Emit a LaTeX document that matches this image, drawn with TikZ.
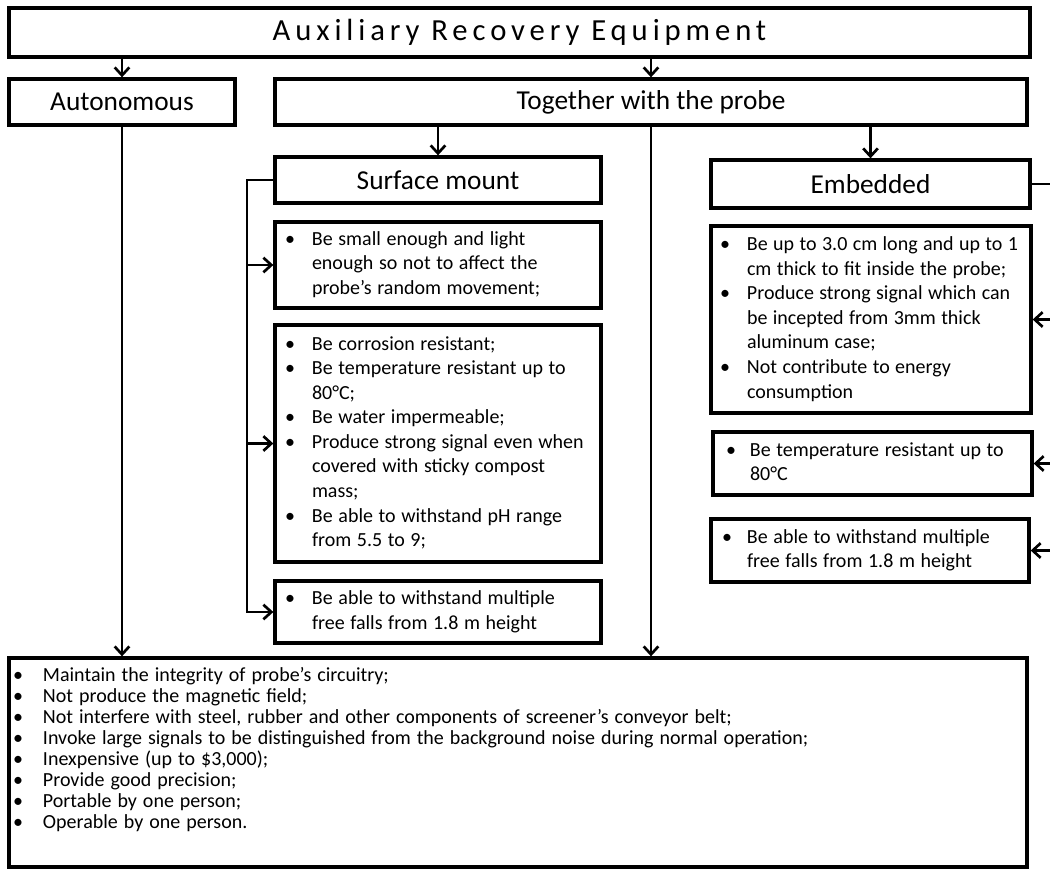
\documentclass[tikz,border=0pt]{standalone}
\usepackage{fontspec}
\setmainfont{Carlito}
\newfontfamily\titlefont[LetterSpace=16]{Carlito}
\usetikzlibrary{arrows.meta}
\newlength\bind
\newcommand\bl{\makebox[\bind][l]{•}}
\newcommand\cl{\hspace*{\bind}}
\newcommand\tsp[1]{\spaceskip=#1em plus 0.05em minus 0.02em\relax}
\begin{document}
\begin{tikzpicture}[x=0.75pt,y=-0.75pt,
  hdr/.style={draw, line width=2.5pt, inner sep=0pt, font=\fontsize{20.5pt}{24pt}\selectfont},
  txtbox/.style={draw, line width=2.5pt, inner ysep=0pt, align=left,
    font=\fontsize{15pt}{18.4pt}\selectfont},
  conn/.style={line width=2pt},
  arr/.style={conn, -{Straight Barb[length=6pt,width=11pt]}}]
\path[use as bounding box] (0,0) rectangle (1050,869);
% headers
\node[hdr, minimum width=765.75pt, minimum height=36.75pt, font=\titlefont\fontsize{23pt}{27pt}\selectfont] (title) at (519.5,32.5) {Auxiliary Recovery Equipment};
\node[hdr, minimum width=169.5pt, minimum height=34.5pt] (aut) at (122,102) {Autonomous};
\node[hdr, minimum width=564pt, minimum height=34.5pt] (tog) at (651,102) {Together with the probe};
\node[hdr, minimum width=244.5pt, minimum height=34.5pt] (sm) at (438,180) {Surface mount};
\node[hdr, minimum width=239.25pt, minimum height=36pt] (emb) at (870.5,184) {Embedded};
% surface mount boxes
\node[txtbox, minimum width=244.5pt, minimum height=64.5pt, text width=229.5pt, inner xsep=7.5pt] (sm1) at (438,265)
 {\tsp{0.28}\setlength\bind{20.25pt}\begin{tabular}{@{}l@{}}
 \bl Be small enough and light\\
 \cl enough so not to affect the\\
 \cl probe’s random movement;
 \end{tabular}};
\node[txtbox, minimum width=244.5pt, minimum height=177.75pt, text width=229.5pt, inner xsep=7.5pt] (sm2) at (438,443.5)
 {\tsp{0.28}\setlength\bind{20.25pt}\begin{tabular}{@{}l@{}}
 \bl Be corrosion resistant;\\
 \bl Be temperature resistant up to\\
 \cl 80°C;\\
 \bl Be water impermeable;\\
 \bl Produce strong signal even when\\
 \cl covered with sticky compost\\
 \cl mass;\\
 \bl Be able to withstand pH range\\
 \cl from 5.5 to 9;
 \end{tabular}};
\node[txtbox, minimum width=244.5pt, minimum height=46.5pt, text width=229.5pt, inner xsep=7.5pt] (sm3) at (438,612)
 {\tsp{0.28}\setlength\bind{20.25pt}\begin{tabular}{@{}l@{}}
 \bl Be able to withstand multiple\\
 \cl free falls from 1.8 m height
 \end{tabular}};
% embedded boxes
\node[txtbox, minimum width=240pt, minimum height=140.25pt, text width=226.5pt, inner xsep=6.75pt] (e1) at (871,319.5)
 {\tsp{0.27}\setlength\bind{20.25pt}\begin{tabular}{@{}l@{}}
 \bl Be up to 3.0 cm long and up to 1\\
 \cl cm thick to fit inside the probe;\\
 \bl Produce strong signal which can\\
 \cl be incepted from 3mm thick\\
 \cl aluminum case;\\
 \bl Not contribute to energy\\
 \cl consumption
 \end{tabular}};
\node[txtbox, minimum width=239.25pt, minimum height=47.25pt, text width=219.75pt, inner xsep=9.75pt] (e2) at (872.5,463.5)
 {\tsp{0.28}\setlength\bind{18pt}\begin{tabular}{@{}l@{}}
 \bl Be temperature resistant up to\\
 \cl 80°C
 \end{tabular}};
\node[txtbox, minimum width=238.5pt, minimum height=47.25pt, text width=222pt, inner xsep=8.25pt] (e3) at (870,550.5)
 {\tsp{0.28}\setlength\bind{18.75pt}\begin{tabular}{@{}l@{}}
 \bl Be able to withstand multiple\\
 \cl free falls from 1.8 m height
 \end{tabular}};
% bottom box
\node[txtbox, minimum width=763.5pt, minimum height=156.75pt, text width=757.5pt, inner xsep=3pt,
      font=\fontsize{15pt}{15.75pt}\selectfont] (bot) at (518,762.5)
 {\tsp{0.3}\setlength\bind{22.5pt}\begin{tabular}{@{}l@{}}
 \bl Maintain the integrity of probe’s circuitry;\\
 \bl Not produce the magnetic field;\\
 \bl Not interfere with steel, rubber and other components of screener’s conveyor belt;\\
 \bl Invoke large signals to be distinguished from the background noise during normal operation;\\
 \bl Inexpensive (up to \$3,000);\\
 \bl Provide good precision;\\
 \bl Portable by one person;\\
 \bl Operable by one person.\\[18pt]
 \end{tabular}};
% connectors
\draw[arr] (aut.north |- title.south) -- (aut.north);
\draw[arr] (tog.north |- title.south) -- (tog.north);
\draw[arr] (sm.north |- tog.south) -- (sm.north);
\draw[arr] (emb.north |- tog.south) -- (emb.north);
\draw[arr] (aut.south) -- (aut.south |- bot.north);
\draw[arr] (tog.south) -- (tog.south |- bot.north);
\coordinate (smbus) at (247,180);
\draw[arr] (sm.west) -- (smbus) |- (sm3.west);
\draw[arr] (smbus |- sm1.west) -- (sm1.west);
\draw[arr] (smbus |- sm2.west) -- (sm2.west);
\coordinate (ebus) at (1058,184);
\draw[conn] (emb.east) -- (ebus) -- (ebus |- e3.east);
\draw[arr] (ebus |- e1.east) -- (e1.east);
\draw[arr] (ebus |- e2.east) -- (e2.east);
\draw[arr] (ebus |- e3.east) -- (e3.east);
\end{tikzpicture}
\end{document}
